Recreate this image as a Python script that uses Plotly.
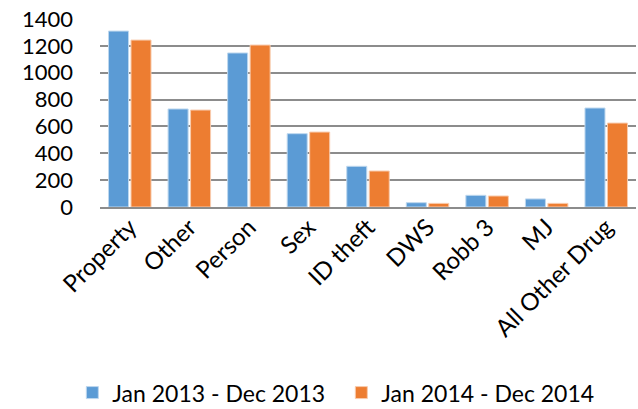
import plotly.graph_objects as go

categories = ["Property", "Other", "Person", "Sex", "ID theft", "DWS", "Robb 3", "MJ", "All Other Drug"]
series_2013 = [1310, 730, 1147, 546, 303, 32, 87, 60, 737]
series_2014 = [1243, 722, 1206, 558, 268, 27, 82, 27, 625]
name_2013 = "Jan 2013 - Dec 2013"
name_2014 = "Jan 2014 - Dec 2014"

FONT = "Lato"

fig = go.Figure()
fig.add_trace(go.Bar(x=categories, y=series_2013, name=name_2013,
                     marker=dict(color="#5B9BD5", line=dict(color="#BDD7EE", width=1))))
fig.add_trace(go.Bar(x=categories, y=series_2014, name=name_2014,
                     marker=dict(color="#ED7D31", line=dict(color="#F8CBAD", width=1))))

fig.update_layout(
    width=638, height=409,
    margin=dict(l=100, r=2, t=19, b=202, autoexpand=False),
    paper_bgcolor="white", plot_bgcolor="white",
    barmode="group", bargap=0.245, bargroupgap=0.11,
    font=dict(family=FONT, size=22, color="black"),
    showlegend=True,
    legend=dict(orientation="h", xref="container", yref="container",
                x=0.535, xanchor="center", y=0.04, yanchor="middle",
                entrywidth=224, entrywidthmode="pixels",
                font=dict(family=FONT, size=23), traceorder="normal"),
)
fig.update_yaxes(range=[0, 1400], dtick=200, showgrid=True, gridcolor="#8C8C8C", gridwidth=1.5,
                 zeroline=False, showline=False, ticks="", ticklabelstandoff=26,
                 automargin=False, tickfont=dict(family=FONT, size=22))
fig.update_xaxes(tickangle=-45, showline=True, linecolor="#8C8C8C", linewidth=1.5,
                 ticks="", automargin=False, ticklabelstandoff=-5,
                 tickfont=dict(family=FONT, size=24))

fig.write_html("out.html", config={"displayModeBar": False},
               post_script="document.body.style.margin='0';document.body.style.overflow='hidden';")
